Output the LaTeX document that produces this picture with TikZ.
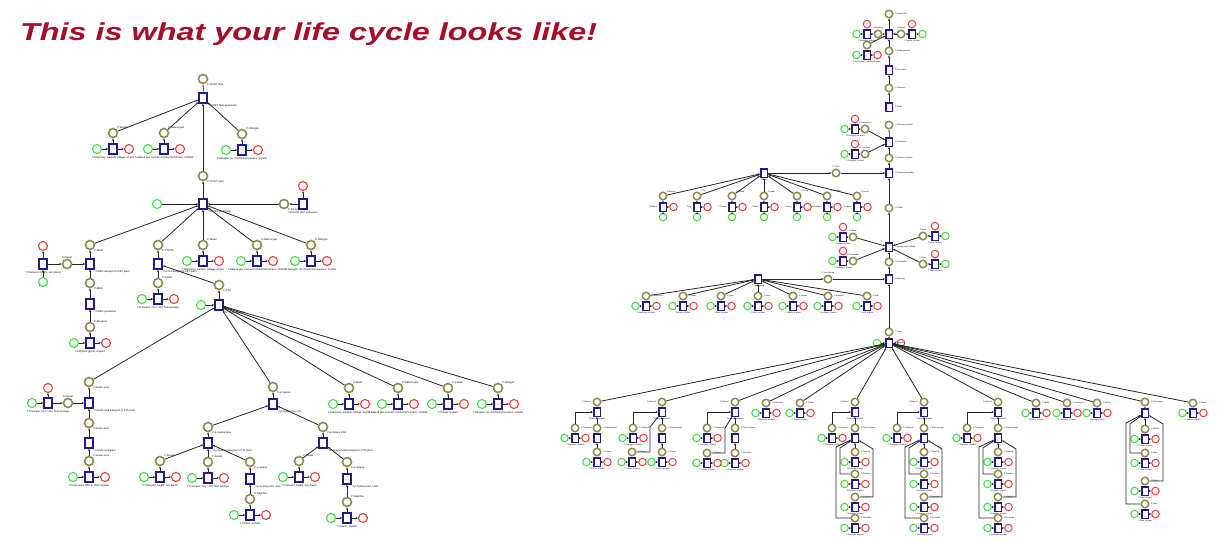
\documentclass[tikz,border=0pt]{standalone}
\usepackage{fontspec}
\setmainfont{Liberation Sans}
\usetikzlibrary{arrows.meta,positioning}

\definecolor{placecol}{HTML}{8C8A4E}
\definecolor{transcol}{HTML}{1E1E86}
\definecolor{srccol}{HTML}{3CE03C}
\definecolor{sinkcol}{HTML}{F03C3C}
\definecolor{titlecol}{HTML}{A30F2B}
\definecolor{firecol}{HTML}{F020E0}

\tikzset{
  place/.style={circle, draw=placecol, line width=1.6pt, fill=white, minimum size=9pt, inner sep=0pt},
  trans/.style={rectangle, draw=transcol, line width=1.5pt, fill=white, minimum width=8pt, minimum height=10pt, inner sep=0pt},
  src/.style={circle, draw=srccol, line width=1.1pt, fill=white, minimum size=9pt, inner sep=0pt},
  sink/.style={circle, draw=sinkcol, line width=1.1pt, fill=white, minimum size=9pt, inner sep=0pt},
  lbl/.style={font=\fontsize{2.6}{3}\selectfont, inner sep=0.4pt},
  arc/.style={draw=black!85, line width=0.8pt},
  fire/.style={draw=firecol, line width=1pt},
  heading/.style={font=\fontsize{24.5}{30}\selectfont\bfseries\itshape, text=titlecol, inner sep=0pt},
}

\begin{document}
\begin{tikzpicture}[->, >={Stealth[length=2.4pt,width=2pt]}, x=1pt, y=-1pt,
    every edge/.style={arc}, node distance=16pt]
\useasboundingbox (0,0) rectangle (1229,541);

\node[heading, anchor=base west] (title) at (20,40) {\scalebox{1.32}[1]{This is what your life cycle looks like!}};

% ---- PET fibre ----
\node[place] (p0) at (203,79) {};
\node[trans] (t1) at (203,98) {};
\node[place] (p1) at (203,176) {};
\node[trans] (t2) at (203,204) {};
\node[src] (g2) at (157,204) {};
\node[place] (pw) at (284,204) {};
\node[trans] (tw) at (303,204) {};
\node[sink] (rw) at (303,186) {};

\node[place] (pA) at (90,245) {};
\node[trans] (tA) at (90,264) {};
\node[place] (pA2) at (67,264) {};
\node[trans] (tA2) at (43,264) {};
\node[sink] (rA2) at (43,246) {};
\node[src] (gA2) at (43,282) {};
\node[place] (pA3) at (90,283) {};
\node[trans] (tA3) at (90,304) {};

\node[place] (pB) at (158,245) {};
\node[trans] (tB) at (158,264) {};
\node[place] (pC) at (219,285) {};
\node[trans] (t3) at (219,305) {};
\node[src] (g3) at (201,305) {};

\node[place] (pD) at (89,382) {};
\node[trans] (tD) at (89,403) {};
\node[place] (pD2) at (68,403) {};
\node[trans] (tD2) at (48,403) {};
\node[sink] (rD2) at (48,388) {};
\node[src] (gD2) [left of=tD2] {};
\node[place] (pD3) at (89,423) {};
\node[trans] (tD3) at (89,443) {};

\node[place] (pE) at (273,387) {};
\node[trans] (tE) at (273,404) {};
\node[place] (pF) at (208,427) {};
\node[trans] (tF) at (208,443) {};
\node[place] (pG) at (323,427) {};
\node[trans] (tG) at (323,443) {};
\node[place] (pH) at (250,462) {};
\node[trans] (tH) at (250,479) {};
\node[place] (pI) at (347,462) {};
\node[trans] (tI) at (347,479) {};

\draw[fire] (t1) -- (p0);
\path (p1) edge (t1) (t2) edge (p1) (g2) edge (t2)
      (pw) edge (t2) (tw) edge (pw) (tw) edge (rw)
      (pA) edge (t2) (tA) edge (pA) (pA2) edge (tA) (tA2) edge (pA2)
      (tA2) edge (rA2) (gA2) edge (tA2) (pA3) edge (tA) (tA3) edge (pA3)
      (pB) edge (t2) (tB) edge (pB) (pC) edge (tB) (t3) edge (pC) (g3) edge (t3)
      (pD) edge (t3) (tD) edge (pD) (pD2) edge (tD) (tD2) edge (pD2)
      (tD2) edge (rD2) (gD2) edge (tD2) (pD3) edge (tD) (tD3) edge (pD3)
      (pE) edge (t3) (tE) edge (pE) (pF) edge (tE) (pG) edge (tE)
      (tF) edge (pF) (tG) edge (pG) (pH) edge (tF) (tH) edge (pH)
      (pI) edge (tG) (tI) edge (pI);

\foreach \n/\pl/\tl in {p0/{P-N PET fibre}/, t1//{T-N PET fibre production}, p1/{P-N PET resin}/,
    t2//{T-N PET production}, pA/{P-MEG}/, tA//{T-MEG transport to PET plant},
    pA3/{P-MEG}/, tA3//{T-MEG production}, pB/{P-PTA/TA}/, tB//{T-PTA transport to PET plant},
    pC/{P-PTA}/, t3//{T-PTA production}, pD/{P-Acetic acid}/, tD//{T-Acetic acid transport to PTA plant},
    pD3/{P-Acetic acid}/, tD3//{T-Acetic acid plant}, pE/{P-p-Xylene}/, tE//{T-p-Xylene from mix},
    pF/{P-p-Xylene Asia}/, tF//{T-p-Xylene transport to PTA plant}, pG/{P-p-Xylene USA}/,
    tG//{T-p-Xylene USA transport to PTA plant}, pH/{P-p-Xylene}/, tH//{T-p-Xylene prod. Asia},
    pI/{P-p-Xylene}/, tI//{T-p-Xylene prod. USA}, pw/{P-N2 emissions}/}
  \node[lbl, anchor=north west] at (\n.south east) {\pl\tl};
\node[lbl, anchor=south] at (pA2.north) {P-Diesel};
\node[lbl, anchor=north] at ([yshift=-1pt]tA2.south) {T-Transport, freight, rail, diesel};
\node[lbl, anchor=south] at (pD2.north) {P-Diesel};
\node[lbl, anchor=north] at ([yshift=-1pt]tD2.south) {T-Transport, lorry >16t, fleet average};
\node[lbl, anchor=north] at ([yshift=-1pt]tw.south) {T-N2 and VOC emissions};

\foreach \n/\x/\y/\p/\pl/\tl in {
    la/113/133/t1/{Waste}/{Electricity, medium voltage, at grid},
    lb/164/133/t1/{Natural gas}/{Natural gas, burned in industrial furnace >100kW},
    lc/242/134/t1/{Nitrogen}/{Nitrogen, for chemical processes, at plant},
    ld/203/245/t2/{Water}/{Electricity, medium voltage, at grid},
    le/257/245/t2/{Natural gas}/{Natural gas, burned in industrial furnace >100kW},
    lf/311/245/t2/{Nitrogen}/{Nitrogen, for chemical processes, at plant},
    lg/90/327/tA3/{Ethylene}/{Ethylene glycol, at plant},
    lh/158/283/tB/{Diesel}/{Transport, lorry >16t, fleet average},
    li/349/388/t3/{Water}/{Electricity, medium voltage, at grid},
    lj/398/388/t3/{Natural gas}/{Natural gas, burned in industrial furnace >100kW},
    lk/448/388/t3/{Cobalt}/{Cobalt, at plant},
    ll/498/388/t3/{Nitrogen}/{Nitrogen, for chemical processes, at plant},
    lm/89/461/tD3/{Acetic acid}/{Acetic acid, 98\% in H2O, at plant},
    ln/160/461/tF/{Diesel}/{Transport, freight, rail, diesel},
    lo/208/462/tF/{Diesel}/{Transport, lorry >16t, fleet average},
    lp/250/499/tH/{Naphtha}/{Xylene, at plant},
    lq/299/461/tG/{Diesel}/{Transport, freight, rail, diesel},
    lr/347/502/tI/{Naphtha}/{Xylene, at plant}}
{
  \node[place] (p\n) at (\x,\y) {};
  \node[trans] (t\n) at (\x,\y+16) {};
  \node[src] (g\n) [left of=t\n] {};
  \node[sink] (r\n) [right of=t\n] {};
  \node[lbl, anchor=south west] at (p\n.north east) {P-\pl};
  \node[lbl, anchor=north] at ([yshift=-1.5pt]t\n.south) {T-\tl};
  \path (g\n) edge (t\n) (t\n) edge (r\n) (t\n) edge (p\n) (p\n) edge (\p);
}

% ---- garment ----
\begin{scope}[node distance=10.5pt,
    place/.append style={minimum size=7.5pt, line width=1.5pt},
    trans/.append style={minimum width=6.5pt, minimum height=8.5pt, line width=1.5pt},
    src/.append style={minimum size=7.5pt, line width=1pt},
    sink/.append style={minimum size=7.5pt, line width=1pt},
    lbl/.append style={font=\fontsize{2}{2.2}\selectfont}]

\foreach \n/\y in {0/14, 1/51, 2/88, 3/125, 4/158, 5/208, 6/262, 7/332}
  \node[place] (rp\n) at (889,\y) {};
\foreach \n/\y in {0/34, 1/70, 2/107, 3/142, 4/173, 5/247, 6/279, 7/343}
  \node[trans] (rt\n) at (889,\y) {};
\node[src] (g7) [left of=rt7, node distance=12pt] {};
\node[sink] (r7) [right of=rt7, node distance=12pt] {};

\draw[fire] (rt3) -- (rp3);
\path (rt0) edge (rp0) (rp1) edge (rt0) (rt1) edge (rp1) (rp2) edge (rt1)
      (rt2) edge (rp2) (rp4) edge (rt3) (rt4) edge (rp4) (rp5) edge (rt4)
      (rt5) edge (rp5) (rp6) edge (rt5) (rt6) edge (rp6) (rp7) edge (rt6)
      (rt7) edge (rp7) (g7) edge (rt7) (rt7) edge (r7);

\foreach \n/\pl/\tl in {rp0/{P-End of life}/, rt0//{T-End of life}, rp1/{P-Used garment}/,
    rt1//{T-Use phase}, rp2/{P-Garment}/, rt2//{T-Retail}, rp3/{P-Garment at retail}/,
    rt3//{T-Distribution}, rp4/{P-Garment at plant}/, rt4//{T-Garment assembly},
    rp5/{P-Fabric}/, rt5//{T-Dyeing and finishing}, rp6/{P-Grey fabric}/, rt6//{T-Weaving},
    rp7/{P-Yarn}/, rt7//{T-Spinning}}
  \node[lbl, anchor=west] at ([xshift=1.5pt]\n.east) {\pl\tl};

% side inputs: green -> T -> place -> trunk, T -> red
\foreach \n/\x/\y/\q/\tp/\s/\pl in {
    sa/867/34/878/rt0/-1/{Washing}, sb/912/34/901/rt0/1/{Drying},
    sc/855/129/865/rt3/-1/{Packaging}, sd/855/154/865/rt3/-1/{Transport},
    se/843/237/853/rt5/-1/{Water}, sf/843/261/853/rt5/-1/{Chemicals},
    sg/935/236/923/rt5/1/{Heat}, sh/935/264/923/rt5/1/{Dyes}}
{
  \node[trans] (t\n) at (\x,\y) {};
  \node[place] (q\n) at (\q,\y) {};
  \node[sink] (r\n) at (\x,\y-10) {};
  \node[src] (g\n) at (\x+\s*10.5,\y) {};
  \node[lbl, anchor=south] at (q\n.north) {P-\pl};
  \node[lbl, anchor=north] at ([yshift=-0.5pt]t\n.south) {T-\pl, at plant};
  \path (g\n) edge (t\n) (t\n) edge (r\n) (t\n) edge (q\n) (q\n) edge (\tp);
}
\node[place] (qsi) at (867,45) {};
\node[trans] (tsi) at (867,55) {};
\node[src] (gsi) [left of=tsi] {};
\node[sink] (rsi) [right of=tsi] {};
\node[lbl, anchor=north] at ([yshift=-0.5pt]tsi.south) {T-Incineration, municipal waste};
\path (gsi) edge (tsi) (tsi) edge (rsi) (tsi) edge (qsi) (qsi) edge (rt0);

% fabric hub and yarn hub
\node[trans] (hub1) at (764,173) {};
\node[place] (hq1) at (836,173) {};
\node[trans] (hub2) at (758,279) {};
\node[place] (hq2) at (828,279) {};
\path (hub1) edge (hq1) (hq1) edge (rt4) (hub2) edge (hq2) (hq2) edge (rt6);
\node[lbl, anchor=south] at (hq1.north) {P-Trims};
\node[lbl, anchor=south] at (hq2.north) {P-Yarn dyeing};
\node[lbl, anchor=north] at ([yshift=-0.5pt]hub1.south) {T-Trims};
\node[lbl, anchor=north] at ([yshift=-0.5pt]hub2.south) {T-Yarn dyeing};

\foreach \n/\x/\pl in {1/663/{Buttons}, 2/697/{Zip}, 3/732/{Thread}, 4/764/{Label},
    5/797/{Lining}, 6/827/{Interlining}, 7/857/{Carton}}
{
  \node[place] (hp\n) at (\x,196) {};
  \node[trans] (ht\n) at (\x,207) {};
  \node[sink] (hr\n) [right of=ht\n] {};
  \node[src] (hg\n) at (\x,217) {};
  \node[lbl, anchor=south west] at (hp\n.north east) {P-\pl};
  \node[lbl, anchor=east] at ([xshift=-1pt]ht\n.west) {T-\pl};
  \path (hg\n) edge (ht\n) (ht\n) edge (hr\n) (ht\n) edge (hp\n) (hp\n) edge (hub1);
}

% spinning stacks
\foreach \n/\x in {A/597, B/662, C/735, F/855, G/924, H/998}
{
  \node[place] (sp\n) at (\x,402) {};
  \node[trans] (st\n) at (\x,412) {};
  \node[place] (sq\n) at (\x,428) {};
  \node[trans] (su\n) at (\x,438) {};
  \node[lbl, anchor=east] at ([xshift=-1pt]sp\n.west) {P-Fibre \n};
  \node[lbl, anchor=west] at ([xshift=1pt]sq\n.east) {P-Fibre at plant};
  \node[lbl, anchor=north] at ([yshift=-0.5pt]st\n.south) {T-Fibre \n\ transport};
  \path (sp\n) edge (rt7) (st\n) edge (sp\n) (sq\n) edge (st\n) (su\n) edge (sq\n);
}
\node[place] (spJ) at (1145,402) {};
\node[trans] (stJ) at (1145,413) {};
\node[lbl, anchor=west] at ([xshift=1pt]spJ.east) {P-Packaging};
\path (spJ) edge (rt7);
\path (stJ) edge (spJ);

% leaves wired straight to their parent
\foreach \n/\x/\y/\p/\pl in {
    ya/646/296/hub2/{Electricity}, yb/683/296/hub2/{Water}, yc/721/296/hub2/{Dyes},
    yd/758/296/hub2/{Heat}, ye/793/296/hub2/{Steam}, yf/828/296/hub2/{Softener},
    yg/867/296/hub2/{Salt},
    za/766/403/rt7/{Electricity}, zb/800/403/rt7/{Steam}, zc/1036/403/rt7/{Water},
    zd/1067/403/rt7/{Lubricant}, ze/1097/403/rt7/{Sizing}, zf/1193/403/rt7/{Waste},
    ka/597/452/suA/{Cotton}, kb/662/452/suB/{Cotton}, kc/735/453/suC/{Polyester},
    kf/855/452/suF/{Ginning}, kg/924/452/suG/{Ginning}, kh/998/452/suH/{Ginning},
    kj/1145/429/stJ/{Carton}}
{
  \node[place] (p\n) at (\x,\y) {};
  \node[trans] (t\n) at (\x,\y+10) {};
  \node[src] (g\n) [left of=t\n] {};
  \node[sink] (r\n) [right of=t\n] {};
  \node[lbl, anchor=west] at ([xshift=1pt]p\n.east) {P-\pl};
  \node[lbl, anchor=north] at ([yshift=-0.5pt]t\n.south) {T-\pl, at plant};
  \path (g\n) edge (t\n) (t\n) edge (r\n) (t\n) edge (p\n) (p\n) edge (\p);
}

% leaves wired by bent lines
\foreach \n/\x/\y/\pl in {
    wa/575/428/{Transport}, wb/633/428/{Transport}, wc/707/428/{Transport},
    wd/632/452/{Cotton}, we/707/453/{Cotton},
    wf/832/428/{Transport}, wg/897/428/{Transport}, wh/967/428/{Transport},
    f1/855/474/{Fertiliser}, f2/855/497/{Irrigation}, f3/855/518/{Pesticide},
    g1/924/474/{Fertiliser}, g2/924/497/{Irrigation}, g3/924/518/{Pesticide},
    h1/998/474/{Fertiliser}, h2/998/497/{Irrigation}, h3/998/518/{Pesticide},
    j1/1145/453/{Film}, j2/1145/481/{Pallet}, j3/1145/504/{Tape}}
{
  \node[place] (p\n) at (\x,\y) {};
  \node[trans] (t\n) at (\x,\y+10) {};
  \node[src] (g\n) [left of=t\n] {};
  \node[sink] (r\n) [right of=t\n] {};
  \node[lbl, anchor=west] at ([xshift=1pt]p\n.east) {P-\pl};
  \node[lbl, anchor=north] at ([yshift=-0.5pt]t\n.south) {T-\pl, at plant};
  \path (g\n) edge (t\n) (t\n) edge (r\n) (t\n) edge (p\n);
}
\draw[arc] (pwa) |- (stA);
\draw[arc] (pwb) |- (stB);
\draw[arc] (pwc) |- (stC);
\draw[arc] (pwf) |- (stF);
\draw[arc] (pwg) |- (stG);
\draw[arc] (pwh) |- (stH);
\draw[arc] (pwd) -- (650,452) -- (650,427) -- (stB);
\draw[arc] (pwe) -- (725,453) -- (725,428) -- (stC);
\draw[arc] (pf1) -- (840,474) -- (840,448) -- (suF);
\draw[arc] (pf2) -- (873,497) -- (873,449) -- (suF);
\draw[arc] (pf3) -- (836,518) -- (836,447) -- (suF);
\draw[arc] (pg1) -- (909,474) -- (909,448) -- (suG);
\draw[arc] (pg2) -- (942,497) -- (942,449) -- (suG);
\draw[arc] (pg3) -- (905,518) -- (905,447) -- (suG);
\draw[arc] (ph1) -- (983,474) -- (983,448) -- (suH);
\draw[arc] (ph2) -- (1016,497) -- (1016,449) -- (suH);
\draw[arc] (ph3) -- (979,518) -- (979,447) -- (suH);
\draw[arc] (pj1) -- (1130,453) -- (1130,424) -- (stJ);
\draw[arc] (pj2) -- (1163,481) -- (1163,424) -- (stJ);
\draw[arc] (pj3) -- (1126,504) -- (1126,423) -- (stJ);
\end{scope}
\end{tikzpicture}
\end{document}
